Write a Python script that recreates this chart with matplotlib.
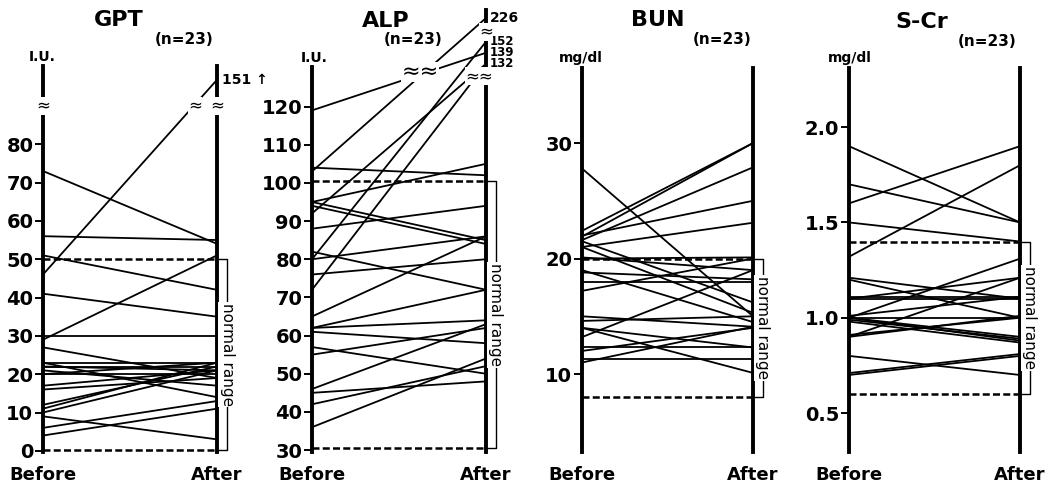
import numpy as np
import matplotlib.pyplot as plt

# values, (Before, After) for each of the 23 patients
gpt_before = [73, 46, 56, 51, 41, 29, 30, 27, 23, 23, 22, 22, 21, 20, 20, 17, 16, 12, 11, 10, 9, 6, 4]
gpt_after = [54, 151, 55, 42, 35, 51, 30, 19, 23, 14, 21, 22, 17, 20, 23, 21, 19, 22, 23, 21, 3, 13, 11]

alp_before = [119, 103, 92, 80, 72, 104, 95, 95, 94, 88, 82, 80, 76, 65, 62, 62, 61, 57, 55, 46, 45, 42, 36]
alp_after = [139, 226, 132, 152, 132, 102, 105, 85, 84, 94, 72, 86, 80, 86, 72, 64, 58, 50, 62, 63, 48, 52, 54]

bun_before = [27.8, 22.4, 21.9, 21.6, 22.0, 21.0, 21.5, 21.0, 20.0, 20.1, 19.0, 18.8, 18.0, 17.2,
              15.0, 14.6, 14.0, 14.0, 13.2, 12.3, 12.0, 11.3, 11.0]
bun_after = [15.0, 30.0, 30.0, 27.9, 25.0, 23.1, 16.2, 15.3, 20.1, 19.0, 14.5, 18.2, 18.0, 20.0,
             14.1, 15.0, 12.3, 10.1, 19.0, 12.3, 14.0, 11.3, 14.1]

scr_before = [1.9, 1.7, 1.6, 1.5, 1.32, 1.21, 1.2, 1.1, 1.1, 1.11, 1.0, 1.0, 1.0, 1.0, 0.99, 1.01,
              0.9, 0.9, 0.91, 0.8, 0.7, 0.71, 0.98]
scr_after = [1.5, 1.5, 1.9, 1.4, 1.8, 1.1, 1.0, 1.21, 1.1, 1.11, 1.31, 1.0, 0.9, 0.88, 0.89, 1.11,
             1.21, 1.01, 1.0, 0.7, 0.8, 0.81, 0.87]

gpt_ticks = [0, 10, 20, 30, 40, 50, 60, 70, 80]
alp_ticks = [30, 40, 50, 60, 70, 80, 90, 100, 110, 120]
bun_ticks = [10, 20, 30]
scr_ticks = [0.5, 1.0, 1.5, 2.0]
scr_ticklabels = ['0.5', '1.0', '1.5', '2.0']

gpt_normal = [0.3, 50]
alp_normal = [30.5, 100.5]
bun_normal = [8, 20]
scr_normal = [0.6, 1.4]

# broken axes: real value -> drawn position
gpt_break_real = [90, 151]
gpt_break_disp = [90, 96.8]
alp_break_real = [129, 132, 139, 152, 226]
alp_break_disp = [129, 131.2, 134.1, 137.0, 143.2]

plt.rcParams['font.family'] = 'DejaVu Sans'
plt.rcParams['font.weight'] = 'bold'

W, H = 1054, 487


def broken_scale(real, disp):
    slope = (disp[-1] - disp[-2]) / (real[-1] - real[-2])
    r = np.array([-1e4] + real + [1e4])
    d = np.array([-1e4] + disp + [disp[-1] + (1e4 - real[-1]) * slope])
    fwd = lambda v: np.interp(v, r, d)
    inv = lambda v: np.interp(v, d, r)
    return fwd, inv


def add_panel(x0, x1, ytop, ybot):
    return fig.add_axes([x0 / W, 1 - ybot / H, (x1 - x0) / W, (ybot - ytop) / H])


def draw_panel(ax, before, after, ticks, ticklabels, ylim, normal, left_top=None):
    for b, a in zip(before, after):
        ax.plot([0, 1], [b, a], color='k', lw=1.3, solid_capstyle='butt')
    ax.hlines(normal, 0, 1, colors='k', linestyles=(0, (2.8, 1.3)), lw=1.8)
    ax.set_xlim(0, 1)
    ax.set_ylim(*ylim)
    ax.spines['top'].set_visible(False)
    ax.spines['bottom'].set_visible(False)
    ax.spines['left'].set_linewidth(2.8)
    ax.spines['right'].set_linewidth(2.8)
    if left_top is not None:
        ax.spines['left'].set_bounds(ylim[0], left_top)
    ax.set_xticks([])
    ax.set_yticks(ticks, ticklabels)
    ax.yaxis.set_minor_locator(plt.NullLocator())
    ax.tick_params(axis='y', direction='out', length=6, width=1.4, labelsize=14, pad=1)

    # normal range bracket
    trans = ax.get_yaxis_transform()
    bx = 1 + 10 / (ax.get_position().width * W)
    ax.plot([1, bx, bx, 1], [normal[1], normal[1], normal[0], normal[0]],
            transform=trans, color='k', lw=1.0, clip_on=False)
    ax.text(bx, np.mean(normal), 'normal range', rotation=-90, transform=trans,
            ha='center', va='center', fontsize=11, fontweight='normal',
            bbox=dict(fc='white', ec='none', pad=1))

    # Before / After
    for x, lab in [(0, 'Before'), (1, 'After')]:
        ax.annotate(lab, xy=(x, 0), xycoords=('axes fraction', 'figure fraction'),
                    xytext=(0, 12), textcoords='offset pixels',
                    ha='center', va='center', fontsize=13)


def breakmark(ax, x, y, text='≈', size=12):
    ax.text(x, y, text, transform=ax.get_yaxis_transform(), ha='center', va='center',
            fontsize=size, fontweight='normal', bbox=dict(fc='white', ec='none', pad=0),
            zorder=5, clip_on=False)


def title(x, y, text, size):
    fig.text(x / W, 1 - y / H, text, ha='center', va='center', fontsize=size)


fig = plt.figure(figsize=(W / 100, H / 100), dpi=100)

# GPT
ax = add_panel(43, 217, 66, 452)
fwd, inv = broken_scale(gpt_break_real, gpt_break_disp)
ax.set_yscale('function', functions=(fwd, inv))
draw_panel(ax, gpt_before, gpt_after, gpt_ticks, [str(t) for t in gpt_ticks],
           (-0.3, inv(100.4)), gpt_normal)
for x in [0, 0.874, 1]:
    breakmark(ax, x, 90)
ax.text(1.03, 151, '151 \u2191', transform=ax.get_yaxis_transform(), ha='left', va='center', fontsize=10)
title(119, 20, 'GPT', 16)
title(184, 39, '(n=23)', 11)
title(42, 57, 'I.U.', 10)

# ALP
ax = add_panel(312, 486, 10, 452)
fwd, inv = broken_scale(alp_break_real, alp_break_disp)
ax.set_yscale('function', functions=(fwd, inv))
draw_panel(ax, alp_before, alp_after, alp_ticks, [str(t) for t in alp_ticks],
           (29.5, inv(145.3)), alp_normal, left_top=inv(130.4))
breakmark(ax, 0.62, 129, '≈≈', 16)
breakmark(ax, 0.96, 128, '≈≈', 12)
breakmark(ax, 1, 183)
ax.text(1.02, 226, '226', transform=ax.get_yaxis_transform(), ha='left', va='center', fontsize=10)
for v in [152, 139, 132]:
    ax.text(1.02, v, str(v), transform=ax.get_yaxis_transform(), ha='left', va='center',
            fontsize=8.5, linespacing=0.9)
title(386, 21, 'ALP', 16)
title(413, 40, '(n=23)', 11)
title(314, 58, 'I.U.', 10)

# BUN
ax = add_panel(582, 753, 68, 452)
draw_panel(ax, bun_before, bun_after, bun_ticks, [str(t) for t in bun_ticks],
           (3.25, 36.5), bun_normal)
title(658, 20, 'BUN', 16)
title(722, 39, '(n=23)', 11)
title(581, 58, 'mg/dl', 10)

# S-Cr
ax = add_panel(849, 1020, 68, 452)
draw_panel(ax, scr_before, scr_after, scr_ticks, scr_ticklabels,
           (0.296, 2.31), scr_normal)
title(922, 22, 'S-Cr', 16)
title(987, 41, '(n=23)', 11)
title(850, 58, 'mg/dl', 10)

plt.savefig('out.png', dpi=100)
